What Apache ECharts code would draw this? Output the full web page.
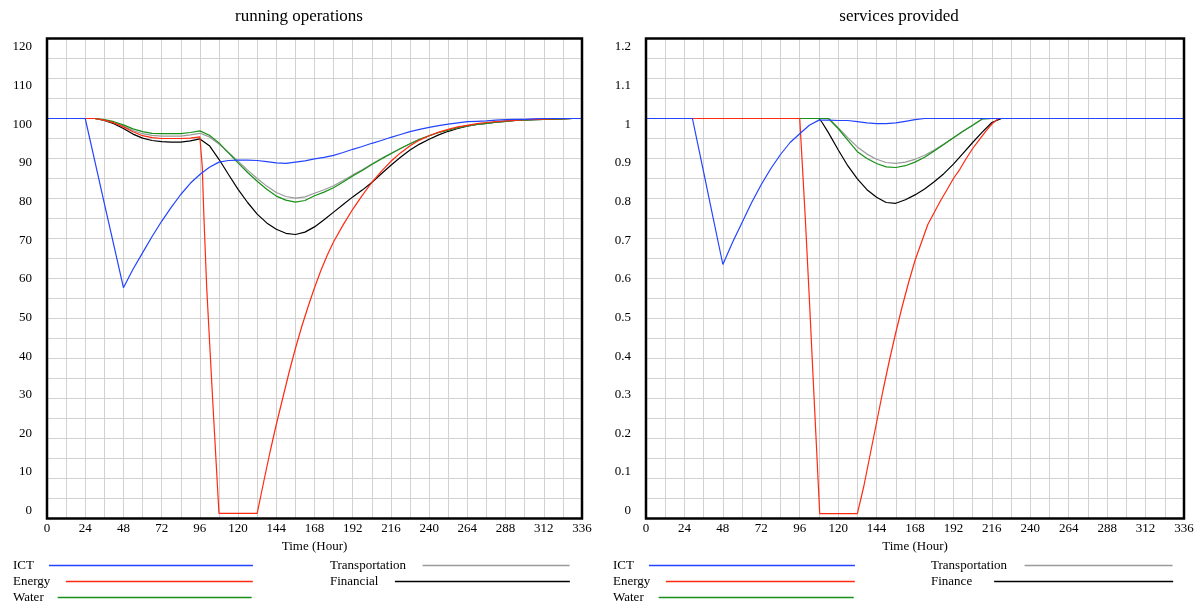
<!DOCTYPE html>
<html>
<head>
<meta charset="utf-8">
<title>running operations / services provided</title>
<script src="https://cdn.jsdelivr.net/npm/echarts@6/dist/echarts.min.js"></script>
<style>
  html, body { margin: 0; padding: 0; background: #fff; }
  #chart { width: 1198px; height: 604px; }
</style>
</head>
<body>
<div id="chart"></div>
<script>
// ---- running operations (left) ----
const hours = [0, 6, 12, 18, 24, 30, 36, 42, 48, 54, 60, 66, 72, 78, 84, 90, 96, 102, 108, 114, 120, 126, 132, 138, 144, 150, 156, 162, 168, 174, 180, 186, 192, 198, 204, 210, 216, 222, 228, 234, 240, 246, 252, 258, 264, 270, 276, 282, 288, 294, 300, 306, 312, 318, 324, 330, 336]
const runICT = [100, 100, 100, 100, 100, 89.4, 78.8, 68.3, 57.7, 62.3, 66.4, 70.5, 74.3, 77.8, 81, 83.8, 86, 87.8, 89.1, 89.5, 89.6, 89.6, 89.5, 89.2, 88.9, 88.8, 89.1, 89.4, 89.9, 90.3, 90.8, 91.5, 92.3, 93, 93.8, 94.5, 95.3, 96, 96.7, 97.3, 97.8, 98.2, 98.6, 98.9, 99.2, 99.3, 99.4, 99.6, 99.7, 99.8, 99.8, 99.9, 100, 100, 100, 100, 100]
const runWater = [100, 100, 100, 100, 100, 100, 99.7, 99.2, 98.4, 97.4, 96.7, 96.3, 96.2, 96.2, 96.2, 96.5, 96.9, 95.8, 93.9, 91.4, 88.9, 86.5, 84.3, 82.3, 80.6, 79.6, 79.1, 79.5, 80.7, 81.6, 82.7, 84.1, 85.6, 87, 88.5, 89.9, 91.2, 92.5, 93.7, 94.8, 95.7, 96.5, 97.1, 97.7, 98.2, 98.5, 98.8, 99.1, 99.3, 99.5, 99.6, 99.7, 99.8, 99.8, 99.9, 100, 100]
const runTransport = [100, 100, 100, 100, 100, 100, 99.6, 99, 98.1, 97, 96.2, 95.8, 95.6, 95.6, 95.6, 95.9, 96.3, 95.4, 93.6, 91.5, 89.3, 87.1, 85, 83.1, 81.5, 80.5, 80.1, 80.4, 81.3, 82.2, 83.2, 84.5, 85.9, 87.2, 88.6, 90, 91.3, 92.5, 93.7, 94.8, 95.7, 96.5, 97.1, 97.7, 98.2, 98.5, 98.8, 99.1, 99.3, 99.5, 99.6, 99.7, 99.8, 99.8, 99.9, 100, 100]
const runFinancial = [100, 100, 100, 100, 100, 100, 99.5, 98.7, 97.5, 96.1, 95.1, 94.5, 94.2, 94.1, 94.1, 94.4, 94.9, 93.2, 89.8, 86, 82.3, 79, 76.1, 73.9, 72.3, 71.3, 71, 71.6, 72.9, 74.7, 76.6, 78.5, 80.4, 82.1, 84, 86.2, 88.3, 90.3, 92.1, 93.6, 94.8, 95.9, 96.8, 97.5, 98.1, 98.5, 98.8, 99.1, 99.3, 99.5, 99.6, 99.7, 99.8, 99.85, 99.9, 100, 100]
const runEnergyHours = [0, 30, 36, 42, 48, 54, 60, 66, 72, 78, 84, 90, 96, 97.5, 98.5, 100.3, 104, 108, 132, 136, 140, 144, 148, 152, 156, 160, 164, 168, 172, 176, 180, 186, 192, 198, 204, 210, 216, 222, 228, 234, 240, 246, 252, 258, 264, 270, 276, 282, 288, 294, 300, 306, 312, 318, 324, 330, 336]
const runEnergy = [100, 100, 99.6, 98.9, 97.9, 96.7, 95.7, 95.2, 95, 95, 95, 95.1, 95.4, 88, 76, 57.7, 30, 1.3, 1.3, 9, 16.5, 23.5, 30, 36.5, 42.5, 48, 53, 57.7, 62, 65.8, 69.2, 73.4, 77.3, 80.8, 84, 86.8, 89.3, 91.4, 93.2, 94.6, 95.7, 96.6, 97.3, 97.9, 98.3, 98.7, 99, 99.2, 99.4, 99.55, 99.7, 99.8, 99.85, 99.9, 99.95, 100, 100]

// ---- services provided (right) ----
const svcICTHours = [0, 29, 36, 42, 48, 54, 60, 66, 72, 78, 84, 90, 96, 102, 108, 114, 120, 126, 132, 138, 144, 150, 156, 162, 168, 174, 336]
const svcICT = [1, 1, 0.866, 0.75, 0.635, 0.69, 0.74, 0.79, 0.835, 0.875, 0.91, 0.94, 0.962, 0.983, 0.996, 0.996, 0.995, 0.995, 0.992, 0.989, 0.987, 0.987, 0.989, 0.993, 0.997, 1, 1]
const svcEnergyHours = [0, 96, 97, 99.5, 102, 105, 108.5, 132, 136, 140, 144, 148, 152, 156, 160, 164, 168, 172, 176, 180, 184, 188, 192, 196, 200, 204, 208, 212, 216, 220, 336]
const svcEnergy = [1, 1, 0.93, 0.75, 0.55, 0.3, 0.012, 0.012, 0.08, 0.16, 0.24, 0.32, 0.395, 0.465, 0.53, 0.59, 0.645, 0.69, 0.735, 0.765, 0.795, 0.822, 0.85, 0.873, 0.9, 0.925, 0.946, 0.967, 0.986, 1, 1]
const svcHours = [0, 108, 110, 114, 120, 126, 132, 138, 144, 150, 156, 162, 168, 174, 180, 186, 192, 198, 204, 210, 216, 222, 336]
const svcWater = [1, 1, 1, 1, 0.975, 0.946, 0.917, 0.9, 0.8875, 0.879, 0.8775, 0.882, 0.891, 0.903, 0.919, 0.935, 0.952, 0.968, 0.983, 0.999, 1, 1, 1]
const svcTransport = [1, 1, 1, 1, 0.977, 0.952, 0.929, 0.911, 0.898, 0.89, 0.888, 0.891, 0.898, 0.908, 0.921, 0.936, 0.952, 0.968, 0.983, 0.999, 1, 1, 1]
const svcFinance = [1, 1, 0.99, 0.964, 0.922, 0.882, 0.849, 0.822, 0.803, 0.79, 0.788, 0.797, 0.809, 0.824, 0.842, 0.862, 0.886, 0.913, 0.94, 0.966, 0.99, 1, 1]

const FONT = "'Liberation Serif', 'DejaVu Serif', serif"
const BLUE = '#2244ff'
const RED = '#ff2a10'
const GREEN = '#179117'
const GRAY = '#9a9a9a'
const BLACK = '#000000'
const GRID_GRAY = '#d2d2d2'

function pairs (xs, ys) {
  return xs.map(function (x, i) { return [x, ys[i]] })
}

function line (name, color, xs, ys, side) {
  return {
    name: name,
    type: 'line',
    xAxisIndex: side,
    yAxisIndex: side * 2,
    data: pairs(xs, ys),
    symbol: 'none',
    color: color,
    lineStyle: { color: color, width: 1.2 },
    animation: false
  }
}

function timeAxis (gridIndex) {
  return {
    type: 'value',
    gridIndex: gridIndex,
    min: 0,
    max: 336,
    interval: 24,
    name: 'Time (Hour)',
    nameLocation: 'middle',
    nameGap: 19,
    nameTextStyle: { fontFamily: FONT, fontSize: 13, color: '#000' },
    axisLine: { show: false },
    axisTick: { show: false },
    axisLabel: { fontFamily: FONT, fontSize: 13, color: '#000', margin: 4, showMinLabel: true, showMaxLabel: true },
    splitLine: { show: true, lineStyle: { color: GRID_GRAY, width: 1 } },
    minorTick: { show: false, splitNumber: 2 },
    minorSplitLine: { show: true, lineStyle: { color: GRID_GRAY, width: 1 } }
  }
}

function valueAxis (gridIndex, max, step) {
  return {
    type: 'value',
    gridIndex: gridIndex,
    min: 0,
    max: max,
    interval: step,
    axisLine: { show: false },
    axisTick: { show: false },
    axisLabel: { show: false },
    splitLine: { show: true, lineStyle: { color: GRID_GRAY, width: 1 } },
    minorTick: { show: false, splitNumber: 2 },
    minorSplitLine: { show: true, lineStyle: { color: GRID_GRAY, width: 1 } }
  }
}

// labels only: Vensim spreads its tick labels slightly wider than the grid
function labelAxis (gridIndex, min, max, step) {
  return {
    type: 'value',
    gridIndex: gridIndex,
    position: 'left',
    min: min,
    max: max,
    splitNumber: 12,
    minInterval: step,
    maxInterval: step,
    axisLine: { show: false },
    axisTick: { show: false },
    splitLine: { show: false },
    axisLabel: {
      fontFamily: FONT,
      fontSize: 13,
      color: '#000',
      margin: 15,
      formatter: function (v) {
        const k = Math.round(v / step)
        return Math.abs(v / step - k) < 1e-6 ? String(Math.round(k * step * 100) / 100) : ''
      }
    }
  }
}

function legendItem (name, left, top, width, gap) {
  return {
    data: [name],
    left: left,
    top: top,
    align: 'right',
    orient: 'horizontal',
    icon: 'rect',
    itemWidth: width,
    itemHeight: 1.5,
    padding: 0,
    selectedMode: false,
    textStyle: { fontFamily: FONT, fontSize: 13, color: '#000', padding: [0, gap, 0, 0] }
  }
}

const chart = echarts.init(document.getElementById('chart'), null, { renderer: 'canvas' })

chart.setOption({
  backgroundColor: '#ffffff',
  animation: false,
  title: [
    { text: 'running operations', left: 299, top: 8, textAlign: 'center', padding: 0, textStyle: { fontFamily: FONT, fontSize: 17, fontWeight: 'normal', color: '#000' } },
    { text: 'services provided', left: 899, top: 8, textAlign: 'center', padding: 0, textStyle: { fontFamily: FONT, fontSize: 17, fontWeight: 'normal', color: '#000' } }
  ],
  grid: [
    { left: 47, top: 38.5, width: 535, height: 480, show: true, borderColor: '#000', borderWidth: 2.5, z: 5 },
    { left: 646, top: 38.5, width: 538, height: 480, show: true, borderColor: '#000', borderWidth: 2.5, z: 5 }
  ],
  xAxis: [timeAxis(0), timeAxis(1)],
  yAxis: [
    valueAxis(0, 120, 10),
    labelAxis(0, -2.02, 122.17, 10),
    valueAxis(1, 1.2, 0.1),
    labelAxis(1, -0.0202, 1.2217, 0.1)
  ],
  legend: [
    legendItem('ICT', 13, 559, 204, 10),
    legendItem('Energy', 13, 575, 187, 10.5),
    legendItem('Water', 13, 591, 194, 9),
    legendItem('Transportation', 330, 559, 147, 11.5),
    legendItem('Financial', 330, 575, 175, 11.5),
    legendItem('ICT', 613, 559, 206, 10),
    legendItem('Energy', 613, 575, 189, 10.5),
    legendItem('Water', 613, 591, 195, 10),
    legendItem('Transportation', 931, 559, 148, 12.5),
    legendItem('Finance', 931, 575, 179, 17)
  ],
  series: [
    line('Financial', BLACK, hours, runFinancial, 0),
    line('Transportation', GRAY, hours, runTransport, 0),
    line('Water', GREEN, hours, runWater, 0),
    line('Energy', RED, runEnergyHours, runEnergy, 0),
    line('ICT', BLUE, hours, runICT, 0),
    line('Finance', BLACK, svcHours, svcFinance, 1),
    line('Transportation', GRAY, svcHours, svcTransport, 1),
    line('Water', GREEN, svcHours, svcWater, 1),
    line('Energy', RED, svcEnergyHours, svcEnergy, 1),
    line('ICT', BLUE, svcICTHours, svcICT, 1)
  ]
})
</script>
</body>
</html>
